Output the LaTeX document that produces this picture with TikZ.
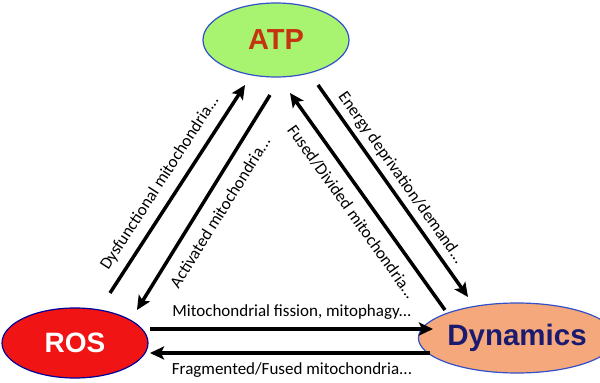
\documentclass[tikz,border=0pt]{standalone}
\usepackage{fontspec}
\setmainfont{Carlito}
\newfontfamily\arialb{Liberation Sans}[BoldFont={* Bold}]
\usetikzlibrary{shapes.geometric,arrows.meta}
\definecolor{atpfill}{RGB}{168,244,112}
\definecolor{atptext}{RGB}{196,52,16}
\definecolor{rosfill}{RGB}{240,20,20}
\definecolor{dynfill}{RGB}{244,168,124}
\definecolor{dyntext}{RGB}{26,26,110}
\definecolor{rimblue}{RGB}{50,80,200}
\tikzset{
  blob/.style={ellipse, draw=rimblue, line width=1.2pt, inner sep=0pt},
  conn/.style={line width=3.5pt, -{Stealth[length=14pt,width=13pt,inset=3pt]}},
  lab/.style={font=\fontsize{17}{19}\selectfont, inner sep=0pt}
}
\begin{document}
\begin{tikzpicture}[x=1pt,y=1pt]
\useasboundingbox (0,0) rectangle (600,383);
\node[blob, fill=atpfill, minimum width=146pt, minimum height=74pt] (ATP) at (276,343)
  {\arialb\bfseries\fontsize{29}{32}\selectfont\color{atptext}ATP};
\node[blob, draw=blue!60!black, fill=rosfill, minimum width=146pt, minimum height=70pt] (ROS) at (75,40)
  {\arialb\bfseries\fontsize{28}{32}\selectfont\color{white}ROS};
\node[blob, fill=dynfill, minimum width=156pt, minimum height=70pt] (DYN) at (517,45)
  {\arialb\bfseries\fontsize{29.5}{32}\selectfont\color{dyntext}Dynamics};

\coordinate (a1s) at (110,90);  \coordinate (a1e) at (245,298);
\coordinate (a2s) at (270,288); \coordinate (a2e) at (137,73);
\coordinate (a3s) at (445,73);  \coordinate (a3e) at (290,290);
\coordinate (a4s) at (318,298); \coordinate (a4e) at (468,86);
\coordinate (a5s) at (150,54);  \coordinate (a5e) at (433,54);
\coordinate (a6s) at (430,30);  \coordinate (a6e) at (150,30);

\draw[conn] (a1s) -- (a1e);
\draw[conn] (a2s) -- (a2e);
\draw[conn] (a3s) -- (a3e);
\draw[conn] (a4s) -- (a4e);
\draw[conn] (a5s) -- (a5e);
\draw[conn] (a6s) -- (a6e);

\node[lab, rotate=57] (l1) at (160,200) {Dysfunctional mitochondria...};
\node[lab, rotate=58] (l2) at (220,171) {Activated mitochondria...};
\node[lab, rotate=-54.5] (l3) at (352,171) {Fused/Divided mitochondria...};
\node[lab, rotate=-54.7] (l4) at (401,205) {Energy deprivation/demand...};
\node[lab] (l5) at (292,71) {Mitochondrial fission, mitophagy...};
\node[lab] (l6) at (292,13) {Fragmented/Fused mitochondria...};
\end{tikzpicture}
\end{document}
